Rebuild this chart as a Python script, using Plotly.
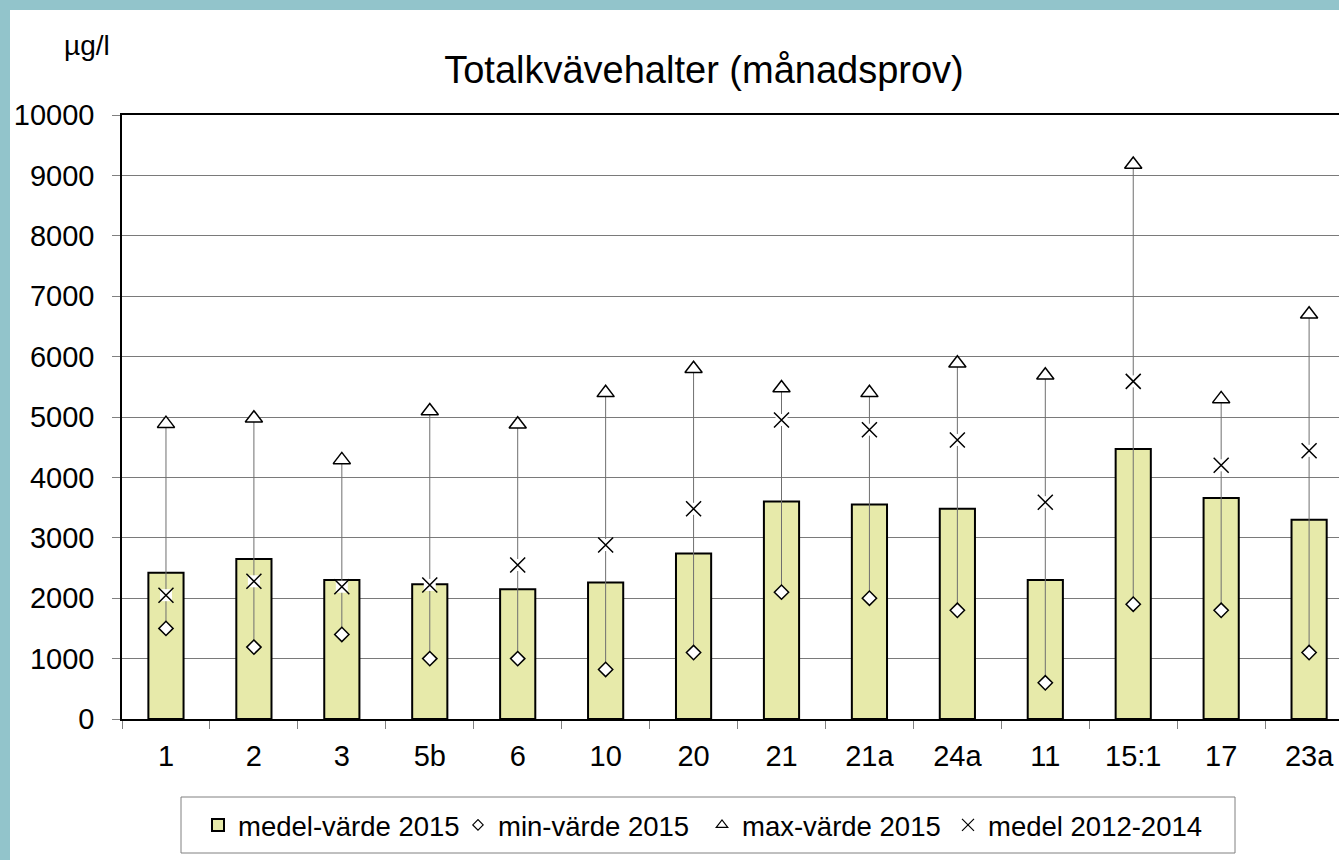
import plotly.graph_objects as go

# ---- data ----
stations = ["1", "2", "3", "5b", "6", "10", "20", "21", "21a", "24a", "11", "15:1", "17", "23a"]
mean_2015 = [2420, 2650, 2300, 2230, 2150, 2260, 2740, 3600, 3550, 3480, 2300, 4470, 3660, 3300]
min_2015 = [1500, 1190, 1400, 1000, 1000, 820, 1100, 2100, 2000, 1800, 600, 1900, 1800, 1100]
max_2015 = [4890, 4980, 4290, 5100, 4880, 5400, 5800, 5480, 5400, 5890, 5690, 9180, 5300, 6700]
mean_2012_2014 = [2050, 2280, 2190, 2220, 2550, 2880, 3480, 4950, 4790, 4620, 3590, 5590, 4200, 4440]
y_ticks = list(range(0, 10001, 1000))

title_text = "Totalkvävehalter (månadsprov)"
unit_text = "µg/l"
names = ["medel-värde 2015", "min-värde 2015", "max-värde 2015", "medel 2012-2014"]

FONT = "Liberation Sans, Arial, sans-serif"
BAR_FILL = "#E7EAAA"
TEAL = "#92C4CB"

# pixel geometry helpers
W, H = 1339, 860
ML, MR, MT, MB = 122, 0, 115, 141
PW = W - ML - MR
PH = H - MT - MB


def px_x(p):
    return (p - ML) / PW


def px_y(p):
    return (H - MB - p) / PH


fig = go.Figure()

# bars
fig.add_trace(go.Bar(
    x=stations, y=mean_2015, name=names[0], width=0.4,
    marker=dict(color=BAR_FILL, line=dict(color="black", width=2)),
    legend="legend",
))

# min-max whisker lines
wx, wy = [], []
for s, lo, hi in zip(stations, min_2015, max_2015):
    wx += [s, s, None]
    wy += [lo, hi, None]
fig.add_trace(go.Scatter(
    x=wx, y=wy, mode="lines", line=dict(color="#6f6f6f", width=1),
    showlegend=False, hoverinfo="skip",
))

# min markers
fig.add_trace(go.Scatter(
    x=stations, y=min_2015, mode="markers", showlegend=False,
    marker=dict(symbol="diamond", size=11, color="white",
                line=dict(color="black", width=1.5)),
))
# max markers
fig.add_trace(go.Scatter(
    x=stations, y=max_2015, mode="markers", showlegend=False,
    marker=dict(symbol="triangle-up", size=15, color="white",
                line=dict(color="black", width=1.5)),
))
# white backing behind x markers
fig.add_trace(go.Scatter(
    x=stations, y=mean_2012_2014, mode="markers", showlegend=False,
    hoverinfo="skip",
    marker=dict(symbol="square", size=12, color="white", line=dict(width=0)),
))
fig.add_trace(go.Scatter(
    x=stations, y=mean_2012_2014, mode="markers", showlegend=False,
    marker=dict(symbol="x-thin-open", size=15, color="black",
                line=dict(color="black", width=1.5)),
))

# legend-only entries (smaller symbols, as in the reference legend)
fig.add_trace(go.Scatter(
    x=[stations[0]], y=[None], mode="markers", name=names[1], legend="legend2",
    marker=dict(symbol="diamond", size=8, color="white",
                line=dict(color="black", width=1.2)),
))
fig.add_trace(go.Scatter(
    x=[stations[0]], y=[None], mode="markers", name=names[2], legend="legend3",
    marker=dict(symbol="triangle-up", size=10, color="white",
                line=dict(color="black", width=1.2)),
))
fig.add_trace(go.Scatter(
    x=[stations[0]], y=[None], mode="markers", name=names[3], legend="legend4",
    marker=dict(symbol="x-thin-open", size=12, color="black",
                line=dict(color="black", width=1.2)),
))

leg_y = px_y(825)


def legend_at(text_start_px):
    return dict(
        x=px_x(text_start_px - 40), xanchor="left", y=leg_y, yanchor="middle",
        bgcolor="rgba(0,0,0,0)", borderwidth=0, itemwidth=30,
        font=dict(family=FONT, size=27.5, color="black"),
    )


fig.update_layout(
    width=W, height=H, autosize=False,
    margin=dict(l=ML, r=MR, t=MT, b=MB, pad=0),
    paper_bgcolor="white", plot_bgcolor="white",
    font=dict(family=FONT, color="black"),
    title=dict(text=title_text, x=704 / W, xref="container", xanchor="center",
               y=1 - 70 / H, yref="container", yanchor="middle",
               font=dict(family=FONT, size=38, color="black")),
    barmode="overlay",
    legend=legend_at(238),
    legend2=legend_at(498),
    legend3=legend_at(742),
    legend4=legend_at(988),
    xaxis=dict(
        type="category", categoryorder="array", categoryarray=stations,
        range=[-0.5, 13.34], showgrid=False, zeroline=False,
        showline=True, linecolor="black", linewidth=2, mirror=True,
        ticks="outside", tickson="boundaries", ticklen=8, tickwidth=1,
        tickcolor="#808080", ticklabelstandoff=10,
        tickfont=dict(family=FONT, size=29, color="black"),
    ),
    yaxis=dict(
        range=[0, 10000], tickvals=y_ticks, ticktext=[str(v) for v in y_ticks],
        showgrid=True, gridcolor="#7a7a7a", gridwidth=1, zeroline=False,
        showline=True, linecolor="black", linewidth=1.5,
        ticks="outside", ticklen=8, tickwidth=1, tickcolor="#808080",
        ticklabelstandoff=12,
        tickfont=dict(family=FONT, size=29, color="black"),
    ),
    annotations=[dict(
        text=unit_text, xref="paper", yref="paper", x=px_x(86.5), y=px_y(46),
        xanchor="center", yanchor="middle", showarrow=False,
        font=dict(family=FONT, size=28, color="black"),
    )],
    shapes=[
        # legend frame
        dict(type="rect", xref="paper", yref="paper",
             x0=px_x(181), x1=px_x(1235), y0=px_y(853), y1=px_y(797),
             line=dict(color="#808080", width=1), fillcolor="rgba(0,0,0,0)"),
        # teal slide border (left and top)
        dict(type="rect", xref="paper", yref="paper",
             x0=px_x(0), x1=px_x(10), y0=px_y(H), y1=px_y(0),
             line=dict(width=0), fillcolor=TEAL),
        dict(type="rect", xref="paper", yref="paper",
             x0=px_x(0), x1=px_x(W), y0=px_y(10), y1=px_y(0),
             line=dict(width=0), fillcolor=TEAL),
    ],
)

fig.write_html(
    "out.html",
    config={"displayModeBar": False},
    post_script="document.body.style.margin='0';document.body.style.overflow='hidden';",
)
